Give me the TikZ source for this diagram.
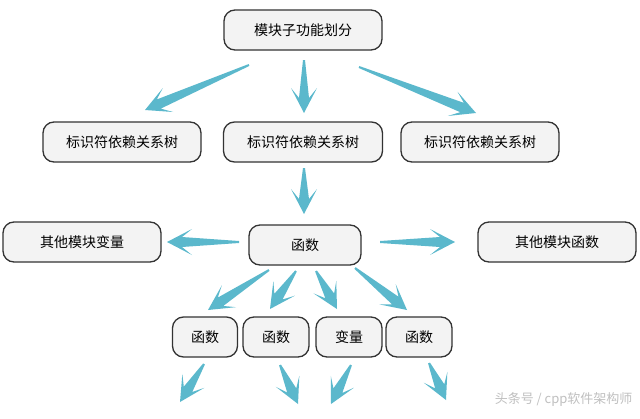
\documentclass[tikz,border=0pt]{standalone}
\usepackage{fontspec}
\newfontfamily\cjk{Noto Sans CJK SC}
\usetikzlibrary{calc}
\definecolor{arrowblue}{HTML}{5BB8CC}
\definecolor{boxfill}{HTML}{F3F3F3}
\definecolor{boxline}{HTML}{333333}
\tikzset{
  modbox/.style={draw=boxline, fill=boxfill, line width=1.3pt, rounded corners=11pt,
    minimum height=40pt, inner sep=0pt, font=\cjk\fontsize{14}{16}\selectfont},
}
% fat tapered arrow between two named points
\newcommand{\fatarrow}[2]{%
  \fill[arrowblue] let \p1=(#1), \p2=(#2), \n1={atan2(\y2-\y1,\x2-\x1)},
    \n2={veclen(\x2-\x1,\y2-\y1)} in
    ($(\p1)+(\n1+90:1pt)$) -- ($(\p1)+(\n1:{\n2-15pt})+(\n1+90:5pt)$)
    -- ($(\p1)+(\n1:{\n2-25pt})+(\n1+90:13pt)$) -- (\p2)
    -- ($(\p1)+(\n1:{\n2-25pt})+(\n1-90:13pt)$) -- ($(\p1)+(\n1:{\n2-15pt})+(\n1-90:5pt)$)
    -- ($(\p1)+(\n1-90:1pt)$) -- cycle;}
\begin{document}
\begin{tikzpicture}[x=1pt,y=1pt]
	\useasboundingbox (0,0) rectangle (640,-418);
	% boxes
	\node[modbox, minimum width=158pt] (top) at (303,-30) {模块子功能划分};
	\node[modbox, minimum width=158pt] (idl) at (122,-142) {标识符依赖关系树};
	\node[modbox, minimum width=159pt] (idm) at (303,-142) {标识符依赖关系树};
	\node[modbox, minimum width=158pt] (idr) at (480,-142) {标识符依赖关系树};
	\node[modbox, minimum width=158pt] (othvar) at (82,-242) {其他模块变量};
	\node[modbox, minimum width=112pt] (func) at (305,-245) {函数};
	\node[modbox, minimum width=158pt] (othfunc) at (557,-242) {其他模块函数};
	\node[modbox, minimum width=65pt] (sub1) at (205,-337) {函数};
	\node[modbox, minimum width=66pt] (sub2) at (276,-337) {函数};
	\node[modbox, minimum width=66pt] (sub3) at (349,-337) {变量};
	\node[modbox, minimum width=66pt] (sub4) at (419,-337) {函数};
	% arrow ends
	\coordinate (t1s) at (249,-65);  \coordinate (t1e) at (145,-110);
	\coordinate (t2s) at (304,-60);  \coordinate (t2e) at (304,-113);
	\coordinate (t3s) at (359,-67);  \coordinate (t3e) at (476,-113);
	\coordinate (t4s) at (304,-168); \coordinate (t4e) at (304,-214);
	\coordinate (lfs) at (239,-242); \coordinate (lfe) at (167,-242);
	\coordinate (rts) at (380,-242); \coordinate (rte) at (455,-242);
	\coordinate (f1s) at (269,-270); \coordinate (f1e) at (208,-310);
	\coordinate (f2s) at (296,-271); \coordinate (f2e) at (270,-309);
	\coordinate (f3s) at (316,-271); \coordinate (f3e) at (337,-309);
	\coordinate (f4s) at (355,-268); \coordinate (f4e) at (407,-310);
	\coordinate (b1s) at (204,-364); \coordinate (b1e) at (180,-402);
	\coordinate (b2s) at (280,-365); \coordinate (b2e) at (298,-404);
	\coordinate (b3s) at (351,-365); \coordinate (b3e) at (331,-404);
	\coordinate (b4s) at (429,-363); \coordinate (b4e) at (446,-400);
	% arrows
	\foreach \a in {t1,t2,t3,t4,lf,rt,f1,f2,f3,f4,b1,b2,b3,b4}
		{\fatarrow{\a s}{\a e}}
	\node[font=\cjk\fontsize{13}{15}\selectfont, text=black!25, anchor=east] (mark) at (636,-400) {头条号 / cpp软件架构师};
\end{tikzpicture}
\end{document}
